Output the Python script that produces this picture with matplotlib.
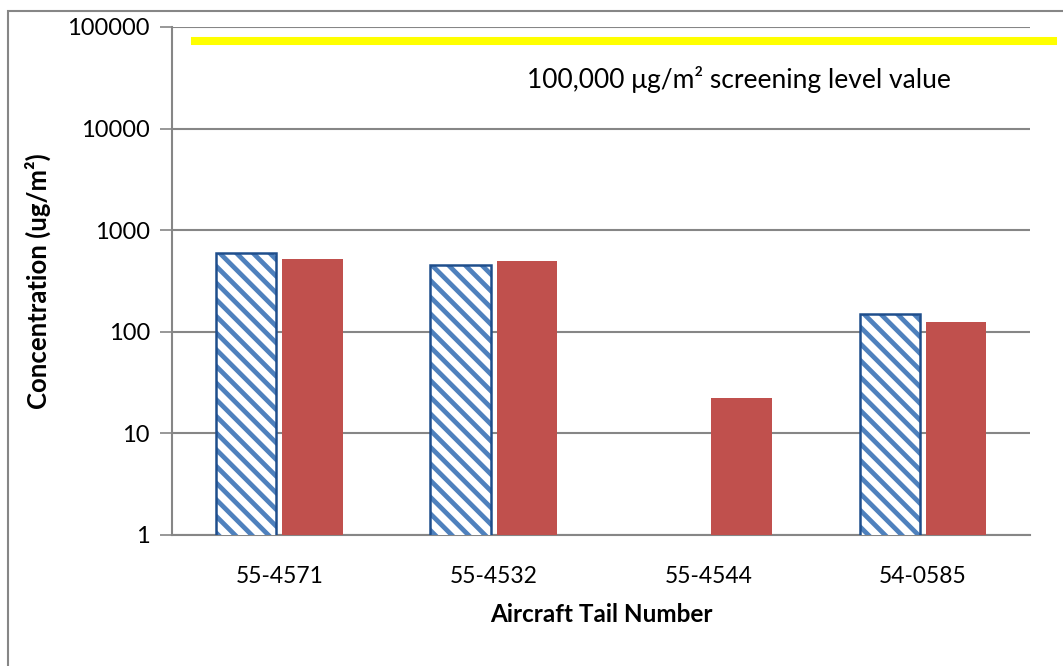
import numpy as np
import matplotlib; matplotlib.use("Agg")
import matplotlib.pyplot as plt
from matplotlib.patches import Rectangle
from matplotlib.ticker import FixedLocator, NullLocator

# ---- data ----
tails = ["55-4571", "55-4532", "55-4544", "54-0585"]
series_a = [597, 454, np.nan, 150]      # hatched (no bar for 55-4544)
series_b = [521, 498, 22.3, 125]        # solid red
screening_line = 73000                  # where the yellow line sits
yticks = [1, 10, 100, 1000, 10000, 100000]
ytick_labels = ["1", "10", "100", "1000", "10000", "100000"]
note = "100,000 \u03bcg/m\u00b2 screening level value"

GRID = "#868686"; BLUE = "#4F81BD"; DKBLUE = "#1F4E8C"; RED = "#C0504D"
plt.rcParams["font.family"] = ["Lato", "DejaVu Sans"]
plt.rcParams["hatch.linewidth"] = 3.4

fig = plt.figure(figsize=(10.63, 6.66), dpi=100)
ax = fig.add_axes([0.1618, 0.1967, 0.969 - 0.1618, 0.9595 - 0.1967])

x = np.arange(len(tails)); w = 0.28; off = 0.155
ax.bar(x - off, series_a, w, color="white", edgecolor=BLUE, hatch="\\\\", linewidth=0, zorder=3)
ax.bar(x - off, series_a, w, fill=False, edgecolor=DKBLUE, linewidth=1.8, zorder=4)
ax.bar(x + off, series_b, w, color=RED, linewidth=0, zorder=3)

ax.set_yscale("log"); ax.set_ylim(1, 100000); ax.set_xlim(-0.5, 3.5)
ax.yaxis.set_major_locator(FixedLocator(yticks)); ax.yaxis.set_minor_locator(NullLocator())
ax.set_yticklabels(ytick_labels, fontsize=17)
ax.set_xticks(x); ax.set_xticklabels(tails, fontsize=16.5)
ax.tick_params(axis="x", length=0, pad=22)
ax.tick_params(axis="y", length=9, width=1.2, color=GRID, pad=7, direction="out")
ax.grid(axis="y", color=GRID, lw=1.5, zorder=0)
for s in ["top", "right"]: ax.spines[s].set_visible(False)
for s in ["left", "bottom"]: ax.spines[s].set_color(GRID); ax.spines[s].set_linewidth(1.5)

ax.axhline(screening_line, xmin=0.027, xmax=1.027, color="#FFFF00", lw=5.8, clip_on=False, zorder=5)
ax.text(0.414, 0.896, note, transform=ax.transAxes, fontsize=19, va="center", ha="left")

ax.set_ylabel("Concentration (ug/m\u00b2)", fontsize=18.5, fontweight="bold", labelpad=12)
ax.set_xlabel("Aircraft Tail Number", fontsize=17.5, fontweight="bold", labelpad=12)

fig.patches.append(Rectangle((8 / 1063, -0.2), 1.2, 1.2 - 11 / 666, transform=fig.transFigure,
                             fill=False, edgecolor=GRID, lw=1.5))
fig.savefig("out.png", dpi=100)
